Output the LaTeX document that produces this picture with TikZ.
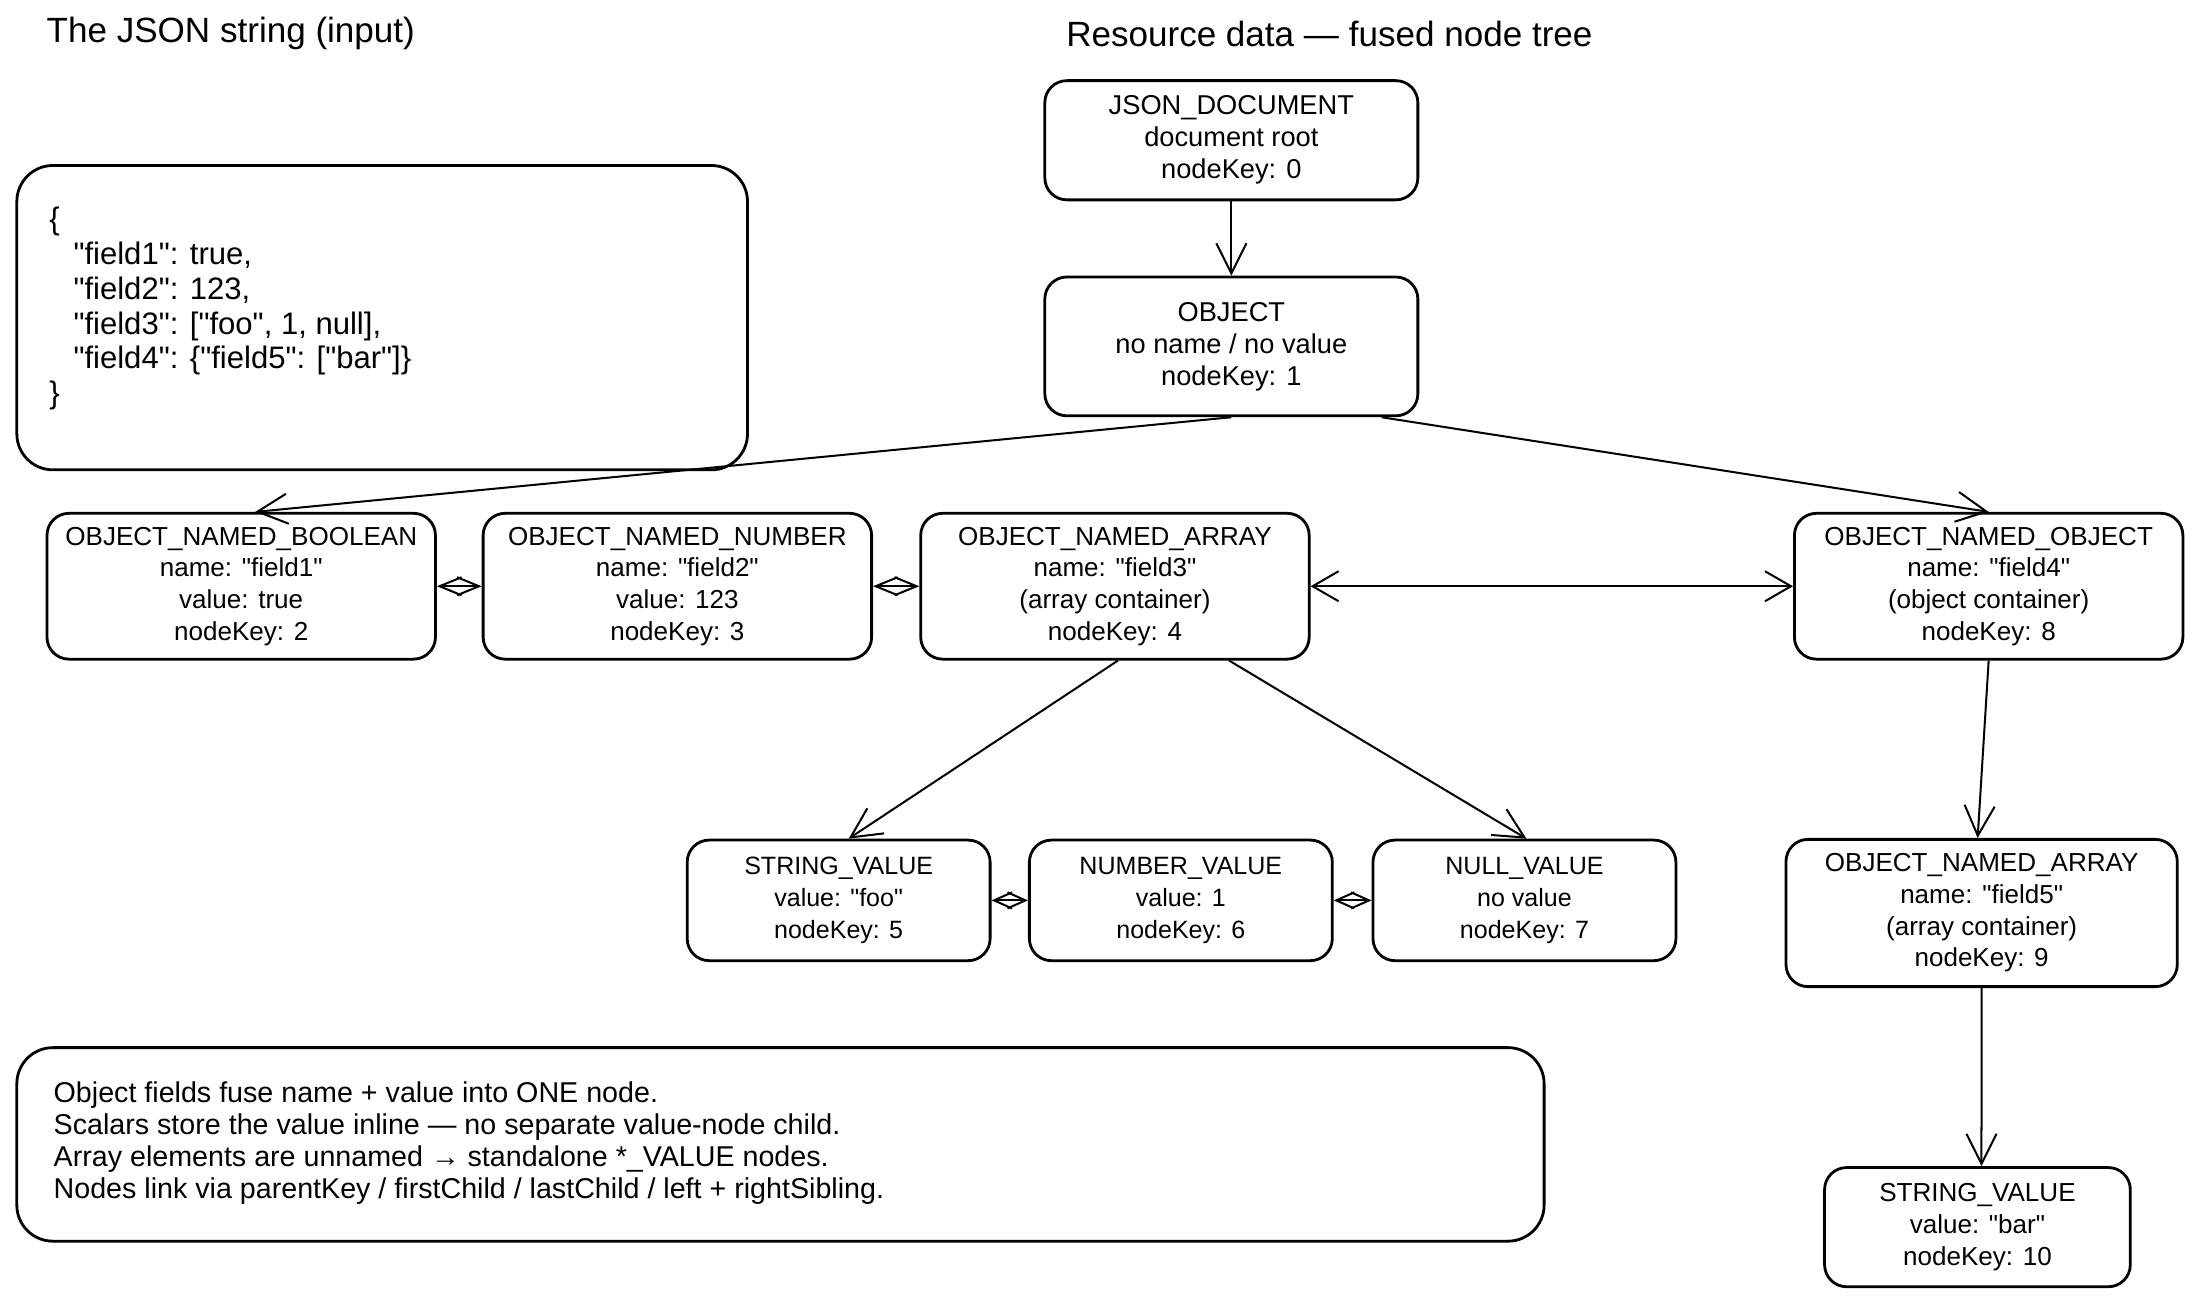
\documentclass[tikz,border=0pt]{standalone}
\usepackage{fontspec}
\setmainfont{Liberation Sans}[Ligatures=TeXOff]
\usetikzlibrary{arrows.meta}
\tikzset{
  box/.style={draw, line width=1.4pt, rounded corners=11pt, align=center, inner sep=0pt,
    font=\fontsize{13}{15.8}\selectfont},
  wide/.style={box, minimum width=193.9pt, minimum height=72.8pt},
  small/.style={box, minimum width=151.2pt, minimum height=60.2pt, font=\fontsize{12.5}{15.8}\selectfont},
  top/.style={box, minimum width=186.2pt, font=\fontsize{13.6}{16}\selectfont},
  arr/.style={line width=1pt, -{Straight Barb[length=15pt,width=15pt,line width=1pt]}},
  both/.style={line width=1pt, {Straight Barb[length=13pt,width=15pt,line width=1pt]}-{Straight Barb[length=13pt,width=15pt,line width=1pt]}},
  sib/.style={line width=1pt, {Straight Barb[length=11pt,width=9pt,line width=1pt]}-{Straight Barb[length=11pt,width=9pt,line width=1pt]}},
  sibs/.style={line width=1pt, {Straight Barb[length=9pt,width=8pt,line width=1pt]}-{Straight Barb[length=9pt,width=8pt,line width=1pt]}},
  ttl/.style={anchor=west, inner sep=0pt, font=\fontsize{17.5}{20}\selectfont},
  plain/.style={anchor=west, inner sep=0pt, align=left}
}
\begin{document}
\begin{tikzpicture}[x=0.7pt, y=-0.7pt]
\useasboundingbox (0,0) rectangle (1568,930);

\node[ttl] (t1) at (33,24) {The JSON string (input)};
\node[ttl] (t2) at (760,24) {Resource data — fused node tree};

% JSON box
\node[draw, line width=1.4pt, rounded corners=18pt, minimum width=364.7pt, minimum height=151.9pt] (jbox) at (272.5,226.5) {};
\node[plain, font=\fontsize{15.5}{17.4}\selectfont] (jtxt) at (35,220) {\{\\
\hspace*{12pt}"field1": true,\\
\hspace*{12pt}"field2": 123,\\
\hspace*{12pt}"field3": ["foo", 1, null],\\
\hspace*{12pt}"field4": \{"field5": ["bar"]\}\\
\}};

% tree
\node[top, minimum height=59.5pt] (doc) at (878,100) {JSON\_DOCUMENT\\document root\\nodeKey: 0};
\node[top, minimum height=69.3pt] (obj) at (878,247) {OBJECT\\no name / no value\\nodeKey: 1};

\node[wide] (bool) at (172,418) {OBJECT\_NAMED\_BOOLEAN\\name: "field1"\\value: true\\nodeKey: 2};
\node[wide] (num) at (483,418) {OBJECT\_NAMED\_NUMBER\\name: "field2"\\value: 123\\nodeKey: 3};
\node[wide] (arr1) at (795,418) {OBJECT\_NAMED\_ARRAY\\name: "field3"\\(array container)\\nodeKey: 4};
\node[wide] (nobj) at (1418,418) {OBJECT\_NAMED\_OBJECT\\name: "field4"\\(object container)\\nodeKey: 8};

\node[small] (sv) at (598,642) {STRING\_VALUE\\value: "foo"\\nodeKey: 5};
\node[small] (nv) at (842,642) {NUMBER\_VALUE\\value: 1\\nodeKey: 6};
\node[small] (lv) at (1087,642) {NULL\_VALUE\\no value\\nodeKey: 7};

\node[box, minimum width=195.3pt, minimum height=73.5pt] (arr2) at (1413,651) {OBJECT\_NAMED\_ARRAY\\name: "field5"\\(array container)\\nodeKey: 9};
\node[box, minimum width=152.6pt, minimum height=59.5pt] (bar) at (1410,875) {STRING\_VALUE\\value: "bar"\\nodeKey: 10};

% notes
\node[draw, line width=1.4pt, rounded corners=18pt, minimum width=762.3pt, minimum height=96.6pt] (nbox) at (556.5,816) {};
\node[plain, font=\fontsize{14.3}{15.9}\selectfont] (ntxt) at (38,815) {Object fields fuse name + value into ONE node.\\
Scalars store the value inline — no separate value-node child.\\
Array elements are unnamed → standalone *\_VALUE nodes.\\
Nodes link via parentKey / firstChild / lastChild / left + rightSibling.};

% connectors
\draw[arr] (doc.south) -- (obj.north);
\draw[arr] (obj.south) -- ([xshift=7pt]bool.north);
\draw[arr] ([xshift=75pt]obj.south) -- (nobj.north);
\draw[sib] (bool) -- (num);
\draw[sib] (num) -- (arr1);
\draw[both] (arr1) -- (nobj);
\draw[arr] ([xshift=1.5pt]arr1.south) -- ([xshift=5pt]sv.north);
\draw[arr] ([xshift=57pt]arr1.south) -- ([xshift=1pt]lv.north);
\draw[sibs] (sv) -- (nv);
\draw[sibs] (nv) -- (lv);
\draw[arr] (nobj.south) -- ([xshift=-2pt]arr2.north);
\draw[arr] (arr2.south) -- ([xshift=2pt]bar.north);
\end{tikzpicture}
\end{document}
